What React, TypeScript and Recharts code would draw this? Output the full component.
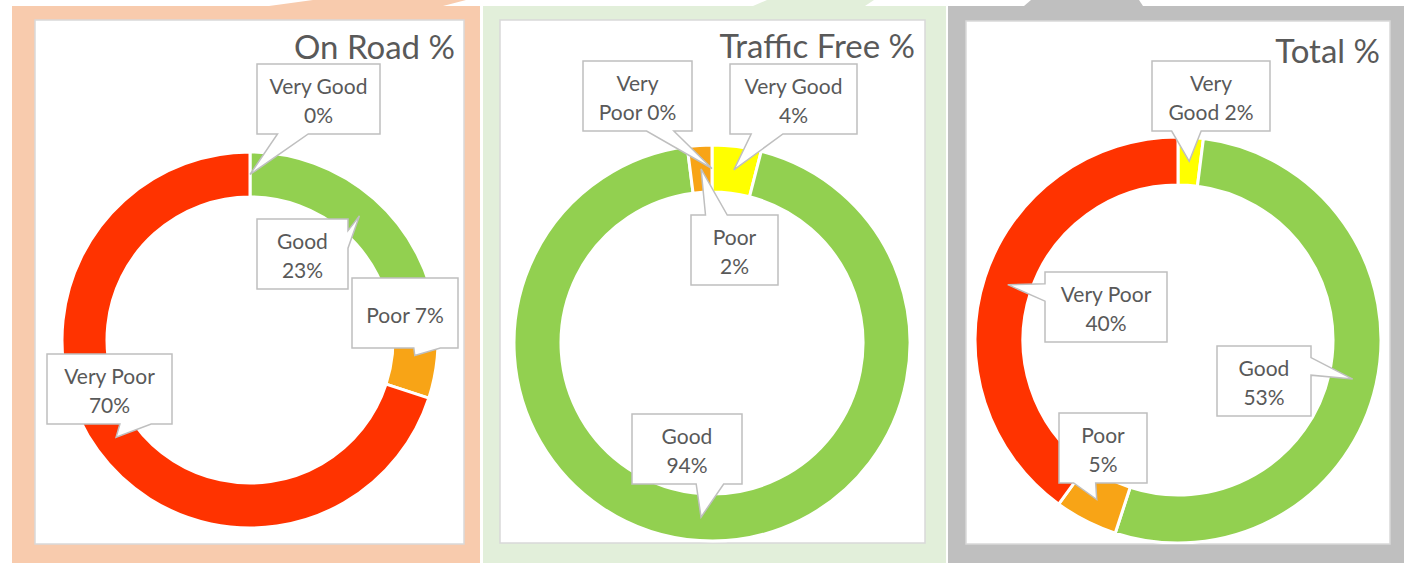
import { PieChart, Pie, Cell } from "recharts";

// data (percent of segments)
const categories = ["Very Good", "Good", "Poor", "Very Poor"];
const onRoadValues = [0, 23, 7, 70];
const trafficFreeValues = [4, 94, 2, 0];
const totalValues = [2, 53, 5, 40];
const titles = ["On Road %", "Traffic Free %", "Total %"];

const colors = ["#FFFF00", "#92D050", "#F8A416", "#FF3300"];
const TEXT = "#595959";
const FONT = "Lato, 'Open Sans', sans-serif";
const RAD = Math.PI / 180;

// callout boxes, offset from the doughnut centre; breakAfter = words on line 1
type Callout = { dx: number; dy: number; w: number; h: number; breakAfter: number };

const onRoadCallouts: Callout[] = [
  { dx: 7, dy: -276, w: 123, h: 70, breakAfter: 2 },
  { dx: 7, dy: -121, w: 91, h: 70, breakAfter: 1 },
  { dx: 102, dy: -62, w: 106, h: 70, breakAfter: 2 },
  { dx: -203, dy: 14, w: 125, h: 70, breakAfter: 2 },
];
const trafficFreeCallouts: Callout[] = [
  { dx: 18, dy: -279, w: 127, h: 70, breakAfter: 2 },
  { dx: -80, dy: 71, w: 110, h: 70, breakAfter: 1 },
  { dx: -21, dy: -128, w: 87, h: 70, breakAfter: 1 },
  { dx: -129, dy: -282, w: 109, h: 70, breakAfter: 1 },
];
const totalCallouts: Callout[] = [
  { dx: -26, dy: -279, w: 118, h: 70, breakAfter: 1 },
  { dx: 39, dy: 6, w: 94, h: 70, breakAfter: 1 },
  { dx: -119, dy: 73, w: 88, h: 70, breakAfter: 1 },
  { dx: -133, dy: -68, w: 122, h: 70, breakAfter: 2 },
];

const panels = [
  {
    values: onRoadValues,
    callouts: onRoadCallouts,
    frame: { x: 12, y: 6, w: 468, h: 557, color: "#F8CBAD" },
    tab: "269,6 313,0 466,0 443,6",
    inner: { x: 35, y: 20, w: 429, h: 524 },
    cx: 215, cy: 320, outer: 188, innerR: 143,
    titleX: 455, titleY: 59,
  },
  {
    values: trafficFreeValues,
    callouts: trafficFreeCallouts,
    frame: { x: 483, y: 6, w: 463, h: 557, color: "#E2EFDA" },
    tab: "753,6 767,0 874,0 865,6",
    inner: { x: 500, y: 20, w: 425, h: 523 },
    cx: 212, cy: 323, outer: 198, innerR: 151,
    titleX: 915, titleY: 58,
  },
  {
    values: totalValues,
    callouts: totalCallouts,
    frame: { x: 948, y: 6, w: 456, h: 557, color: "#BFBFBF" },
    tab: "1024,6 1031,0 1139,0 1143,6",
    inner: { x: 966, y: 21, w: 424, h: 523 },
    cx: 212, cy: 319, outer: 203, innerR: 155,
    titleX: 1380, titleY: 63,
  },
];

// rectangular callout with a wedge, like Office's wedgeRectCallout
function calloutPath(x: number, y: number, w: number, h: number, tx: number, ty: number) {
  const dxPos = tx - (x + w / 2);
  const dyPos = ty - (y + h / 2);
  const dz = Math.abs(dyPos) - Math.abs((dxPos * h) / w);
  const x1 = x + (w * (dxPos > 0 ? 7 : 2)) / 12;
  const x2 = x + (w * (dxPos > 0 ? 10 : 5)) / 12;
  const y1 = y + (h * (dyPos > 0 ? 7 : 2)) / 12;
  const y2 = y + (h * (dyPos > 0 ? 10 : 5)) / 12;
  const r = x + w;
  const b = y + h;
  if (dz > 0 && dyPos < 0)
    return `M${x},${y} L${x1},${y} L${tx},${ty} L${x2},${y} L${r},${y} L${r},${b} L${x},${b} Z`;
  if (dz > 0)
    return `M${x},${y} L${r},${y} L${r},${b} L${x2},${b} L${tx},${ty} L${x1},${b} L${x},${b} Z`;
  if (dxPos > 0)
    return `M${x},${y} L${r},${y} L${r},${y1} L${tx},${ty} L${r},${y2} L${r},${b} L${x},${b} Z`;
  return `M${x},${y} L${r},${y} L${r},${b} L${x},${b} L${x},${y2} L${tx},${ty} L${x},${y1} Z`;
}

function makeLabel(layout: Callout[], values: number[]) {
  return (props: any) => {
    const { cx, cy, midAngle, innerRadius, outerRadius, index } = props;
    const c = layout[index];
    const mid = (innerRadius + outerRadius) / 2;
    const tx = cx + mid * Math.cos(-midAngle * RAD);
    const ty = cy + mid * Math.sin(-midAngle * RAD);
    const x = cx + c.dx;
    const y = cy + c.dy;
    const words = [...categories[index].split(" "), `${values[index]}%`];
    const lines = [words.slice(0, c.breakAfter).join(" "), words.slice(c.breakAfter).join(" ")].filter(
      (s) => s.length > 0
    );
    return (
      <g>
        <path d={calloutPath(x, y, c.w, c.h, tx, ty)} fill="#fff" stroke="#BFBFBF" strokeWidth={1.5} />
        {lines.map((line, i) => (
          <text
            key={i}
            x={x + c.w / 2}
            y={y + c.h / 2 + (i - (lines.length - 1) / 2) * 29 + 1}
            textAnchor="middle"
            dominantBaseline="central"
            fontFamily={FONT}
            fontSize={21}
            fill={TEXT}
          >
            {line}
          </text>
        ))}
      </g>
    );
  };
}

export default function App() {
  return (
    <div style={{ position: "absolute", left: 0, top: 0, width: 1404, height: 563, overflow: "hidden", background: "#fff" }}>
      <svg width={1404} height={563} style={{ position: "absolute", left: 0, top: 0 }}>
        {panels.map((p, i) => (
          <g key={i}>
            <rect x={p.frame.x} y={p.frame.y} width={p.frame.w} height={p.frame.h} fill={p.frame.color} />
            <polygon points={p.tab} fill={p.frame.color} />
            <rect x={p.inner.x} y={p.inner.y} width={p.inner.w} height={p.inner.h} fill="#fff" stroke="#D9D9D9" strokeWidth={1.5} />
            <text x={p.titleX} y={p.titleY} textAnchor="end" fontFamily={FONT} fontSize={33} fill={TEXT}>
              {titles[i]}
            </text>
          </g>
        ))}
      </svg>
      {panels.map((p, i) => {
        const data = categories.map((name, k) => ({ name, value: p.values[k] }));
        return (
          <div key={i} style={{ position: "absolute", left: p.inner.x, top: p.inner.y }}>
            <PieChart width={p.inner.w} height={p.inner.h} margin={{ top: 0, right: 0, bottom: 0, left: 0 }}>
              <Pie
                data={data}
                dataKey="value"
                nameKey="name"
                cx={p.cx}
                cy={p.cy}
                innerRadius={p.innerR}
                outerRadius={p.outer}
                startAngle={90}
                endAngle={-270}
                stroke="#fff"
                strokeWidth={3}
                labelLine={false}
                label={makeLabel(p.callouts, p.values)}
                isAnimationActive={false}
              >
                {data.map((d, k) => (
                  <Cell key={d.name} fill={colors[k]} />
                ))}
              </Pie>
            </PieChart>
          </div>
        );
      })}
    </div>
  );
}
